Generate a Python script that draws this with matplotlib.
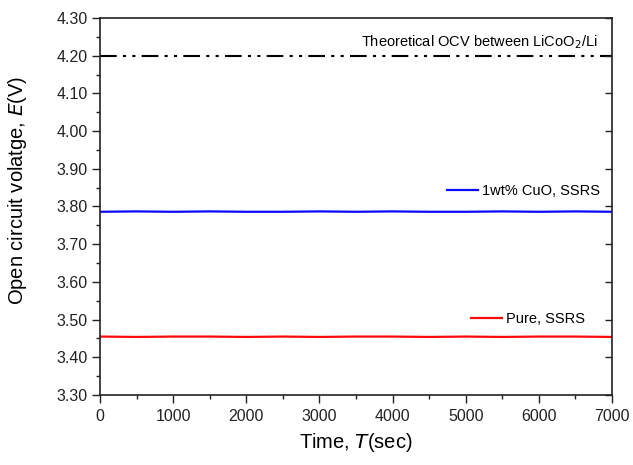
import matplotlib
matplotlib.use("Agg")
import matplotlib.pyplot as plt
from matplotlib.ticker import MultipleLocator, FormatStrFormatter
from matplotlib.legend import Legend

plt.rcParams['font.family'] = ['Liberation Sans', 'DejaVu Sans']

time_s = [0, 500, 1000, 1500, 2000, 2500, 3000, 3500, 4000, 4500, 5000, 5500, 6000, 6500, 7000]
cuo_v = [3.786, 3.787, 3.786, 3.787, 3.786, 3.786, 3.787, 3.786, 3.787, 3.786, 3.786, 3.787, 3.786, 3.787, 3.786]
pure_v = [3.455, 3.454, 3.455, 3.455, 3.454, 3.455, 3.454, 3.455, 3.455, 3.454, 3.455, 3.454, 3.455, 3.455, 3.454]
ocv_theory = 4.20
ocv_time = [0, 7000]

fig = plt.figure(figsize=(6.33, 4.65), dpi=100)
ax = fig.add_axes([100/633, 1-395/465, 512/633, 377/465])

ax.plot(ocv_time, [ocv_theory]*2, color='black', lw=1.5, linestyle=(0, (8, 3, 1.5, 3, 1.5, 3)))
l1, = ax.plot(time_s, cuo_v, color='#0a0aff', lw=1.6)
l2, = ax.plot(time_s, pure_v, color='#ff0a0a', lw=1.6)

ax.set_xlim(0, 7000)
ax.set_ylim(3.30, 4.30)
ax.xaxis.set_major_locator(MultipleLocator(1000))
ax.xaxis.set_minor_locator(MultipleLocator(500))
ax.yaxis.set_major_locator(MultipleLocator(0.1))
ax.yaxis.set_minor_locator(MultipleLocator(0.05))
ax.yaxis.set_major_formatter(FormatStrFormatter('%.2f'))
ax.tick_params(axis='both', which='major', direction='out', length=6, width=1, labelsize=11.5,
               colors='#222222', labelcolor='#222222')
ax.tick_params(axis='both', which='minor', direction='out', length=3, width=1, colors='#222222')
ax.tick_params(axis='y', which='major', pad=3)
ax.tick_params(axis='x', which='major', pad=4)
for s in ax.spines.values():
    s.set_linewidth(1.2)
    s.set_color('#222222')

# right-side inward ticks
ax2 = ax.twinx()
ax2.set_ylim(3.30, 4.30)
ax2.yaxis.set_major_locator(MultipleLocator(0.1))
ax2.yaxis.set_minor_locator(MultipleLocator(1))
ax2.tick_params(axis='y', which='major', direction='in', length=5, width=1, colors='#222222', labelright=False)
for s in ax2.spines.values():
    s.set_visible(False)

ax.set_xlabel('Time, $\\mathit{T}$(sec)', fontsize=14.5)
ax.xaxis.set_label_coords(0.5, -(431 - 395) / 377, transform=ax.transAxes)
ax.set_ylabel('Open circuit volatge, $\\mathit{E}$(V)', fontsize=14.5)
ax.yaxis.set_label_coords(-(100 - 29) / 512, 1 - (190 - 18) / 377, transform=ax.transAxes)

ax.text(6800, 4.235, 'Theoretical OCV between LiCoO$_2$/Li', ha='right', va='center', fontsize=10.5)

ax.legend([l1], ['1wt% CuO, SSRS'], loc='center right', bbox_to_anchor=(0.988, 1-(191-18)/377),
          frameon=False, fontsize=10.5, handlelength=2.1, handletextpad=0.3, borderaxespad=0)
lg2 = Legend(ax, [l2], ['Pure, SSRS'], loc='center right', bbox_to_anchor=(0.959, 1-(319-18)/377),
             frameon=False, fontsize=10.5, handlelength=2.1, handletextpad=0.3, borderaxespad=0)
ax.add_artist(lg2)

fig.savefig('out.png', dpi=100)
